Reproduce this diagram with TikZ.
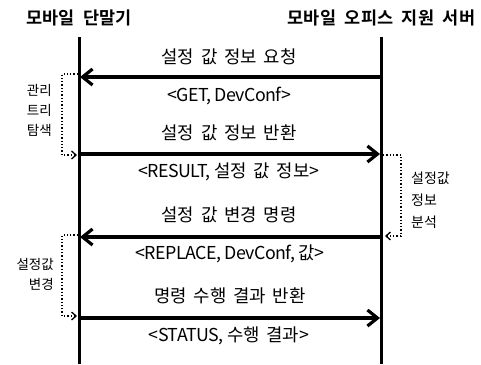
\documentclass[tikz,border=0pt]{standalone}
\usepackage{fontspec}
\setmainfont{Noto Sans CJK KR}
\newfontfamily\lblfont[WordSpace=1.7]{Noto Sans CJK KR}
\newfontfamily\latfont[LetterSpace=-3]{Noto Sans CJK KR}
\newfontfamily\ttlfont[WordSpace=2.2]{Noto Sans CJK KR Bold}
\newcommand{\lat}[1]{{\latfont #1}}
\newcommand{\csp}{,\hspace{3.5pt}}
\usetikzlibrary{arrows.meta}
\tikzset{
  lifeline/.style={line width=3pt},
  msg/.style={line width=3.6pt,-{Straight Barb[length=10pt,width=16pt,line width=3.2pt]}},
  note/.style={dotted,line width=1.3pt,-{Straight Barb[length=4.5pt,width=8pt,line width=1.3pt]}},
  title/.style={font=\fontsize{17.5}{20}\ttlfont,inner sep=0pt},
  lbl/.style={font=\fontsize{17.8}{20}\lblfont,inner sep=0pt},
  side/.style={font=\fontsize{13.5}{20}\selectfont,inner sep=0pt,align=right},
}
\begin{document}
\begin{tikzpicture}[x=1pt,y=-1pt]
\useasboundingbox (0,0) rectangle (481,364);
% titles
\node[title] (tA) at (79,18) {모바일 단말기};
\node[title] (tB) at (381.5,18) {모바일 오피스 지원 서버};
% lifelines
\coordinate (Atop) at (79,37);
\coordinate (Abot) at (79,364);
\coordinate (Btop) at (381,37);
\coordinate (Bbot) at (381,364);
\draw[lifeline] (Atop) -- (Abot);
\draw[lifeline] (Btop) -- (Bbot);
% message endpoints
\coordinate (A1) at (80,77);  \coordinate (B1) at (380,77);
\coordinate (A2) at (80,154); \coordinate (B2) at (380,154);
\coordinate (A3) at (80,237); \coordinate (B3) at (380,237);
\coordinate (A4) at (80,318); \coordinate (B4) at (380,318);
\draw[msg] (B1) -- (A1);
\draw[msg] (A2) -- (B2);
\draw[msg] (B3) -- (A3);
\draw[msg] (A4) -- (B4);
% labels
\node[lbl] (m1a) at (229,57) {설정 값 정보 요청};
\node[lbl] (m1b) at (229,96) {\lat{<GET\csp DevConf>}};
\node[lbl] (m2a) at (229,133) {설정 값 정보 반환};
\node[lbl] (m2b) at (229,172) {\lat{<RESULT\csp}설정 값 정보>};
\node[lbl] (m3a) at (229,215) {설정 값 변경 명령};
\node[lbl] (m3b) at (230,254) {\lat{<REPLACE\csp DevConf\csp}값>};
\node[lbl] (m4a) at (230,296) {명령 수행 결과 반환};
\node[lbl] (m4b) at (229,336) {\lat{<STATUS\csp}수행 결과>};
% side notes
\coordinate (n1s) at (78,74);
\coordinate (n1e) at (77,155);
\draw[note] (n1s) -| (62,150) |- (n1e);
\node[side,anchor=east] (s1) at (52,110) {관리\\트리\\탐색};
\coordinate (n2s) at (383,155);
\coordinate (n2e) at (385,236);
\draw[note] (n2s) -| (401,231) |- (n2e);
\node[side,anchor=west,align=left,font=\fontsize{14}{22}\selectfont] (s2) at (411,200) {설정값\\정보\\분석};
\coordinate (n3s) at (78,235);
\coordinate (n3e) at (77,316);
\draw[note] (n3s) -| (62,311) |- (n3e);
\node[side,anchor=east] (s3) at (54,274) {설정값\\변경};
\end{tikzpicture}
\end{document}
